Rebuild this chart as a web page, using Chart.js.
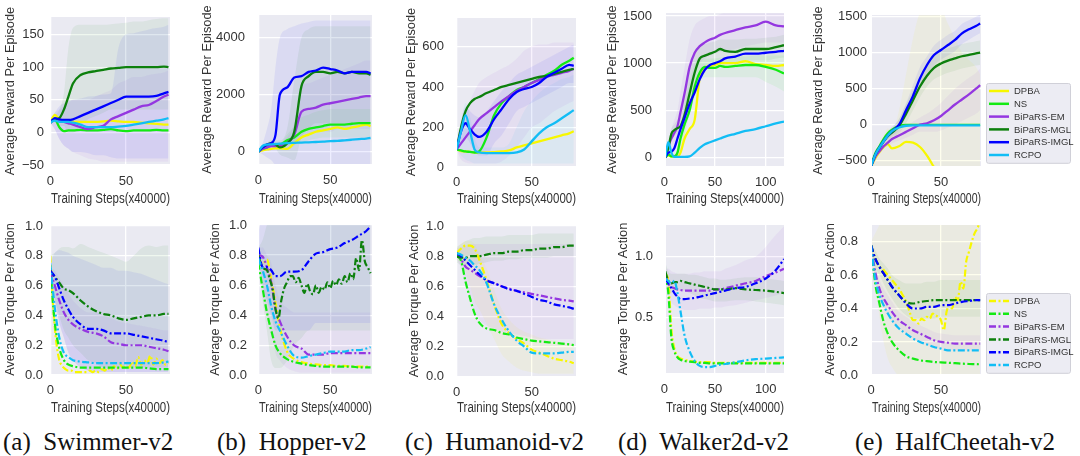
<!DOCTYPE html>
<html>
<head>
<meta charset="utf-8">
<script src="https://cdn.jsdelivr.net/npm/chart.js@4.4.0/dist/chart.umd.min.js"></script>
<style>
  body { margin: 0; background: #fff; width: 1080px; height: 456px; overflow: hidden; position: relative; }
  canvas { position: absolute; }
  .cap { position: absolute; top: 429px; font: 25px/25px "Liberation Serif", "Times New Roman", serif; color: #111; white-space: pre; }
</style>
</head>
<body>
<div class="cap" style="left:3px">(a)  Swimmer-v2</div>
<div class="cap" style="left:217px">(b)  Hopper-v2</div>
<div class="cap" style="left:405px">(c)  Humanoid-v2</div>
<div class="cap" style="left:618px">(d)  Walker2d-v2</div>
<div class="cap" style="left:855px">(e)  HalfCheetah-v2</div>
<script>
// ---- x grids (training steps, x40000) ----
const STEPS80 = [0, 3, 6, 9, 12, 15, 20, 25, 30, 35, 40, 45, 50, 55, 60, 65, 70, 75, 78];
const STEPS80_FINE = [0, 2, 4, 6, 8, 10, 12, 14, 16, 18, 20, 22, 24, 26, 28, 30, 32, 34, 36, 38, 40, 42, 44, 46, 48, 50, 52, 54, 56, 58, 60, 62, 64, 66, 68, 70, 72, 74, 76, 78];
const STEPS120 = [1, 4, 7, 10, 13, 16, 20, 25, 30, 35, 40, 45, 50, 55, 60, 70, 80, 90, 100, 110, 118];

const X_TICKS_80 = [0, 50];
const X_TICKS_120 = [0, 50, 100];

// ---- Swimmer reward ----
const swimRTicks = [-50, 0, 50, 100, 150];
const swimRDpba = [15, 27, 20, 17, 16, 16, 16, 16, 16, 17, 18, 17, 16, 16, 15, 14, 13, 12, 12];
const swimRNs = [15, 20, 8, 2, 3, 3, 4, 3, 3, 4, 5, 3, 2, 3, 3, 3, 4, 3, 3];
const swimREm = [15, 20, 18, 16, 14, 12, 8, 5, 8, 10, 20, 25, 30, 35, 40, 42, 48, 55, 58];
const swimRMgl = [15, 20, 22, 35, 55, 75, 88, 92, 94, 96, 98, 99, 100, 100, 100, 100, 100, 101, 100];
const swimRImgl = [15, 22, 20, 19, 19, 20, 25, 30, 35, 40, 45, 50, 55, 55, 55, 55, 56, 60, 62];
const swimRRcpo = [15, 18, 16, 16, 16, 15, 12, 8, 8, 8, 8, 9, 10, 12, 14, 16, 18, 20, 22];
const swimRMglHi = [15, 25, 35, 60, 130, 160, 165, 165, 165, 165, 166, 167, 168, 170, 170, 172, 174, 175, 175];
const swimRMglLo = [15, 15, 10, 10, 0, 0, 10, 20, 25, 30, 35, 35, 35, 35, 35, 35, 35, 35, 35];
const swimRImglHi = [15, 30, 40, 45, 48, 50, 52, 55, 56, 58, 60, 130, 150, 152, 155, 158, 160, 162, 165];
const swimRImglLo = [15, 5, -10, -20, -25, -30, -30, -32, -35, -35, -38, -40, -40, -40, -40, -40, -40, -40, -40];
const swimREmHi = [15, 30, 35, 40, 45, 50, 50, 50, 55, 60, 65, 75, 80, 85, 85, 88, 90, 92, 95];
const swimREmLo = [15, 5, -10, -20, -25, -30, -35, -40, -42, -45, -45, -45, -45, -45, -45, -45, -45, -45, -45];

// ---- Hopper reward ----
const hopRTicks = [0, 2000, 4000];
const hopRDpba = [0, 50, 80, 100, 120, 120, 100, 300, 500, 600, 700, 750, 800, 850, 800, 850, 900, 950, 900];
const hopRNs = [0, 100, 150, 250, 250, 250, 400, 500, 700, 800, 850, 900, 950, 950, 950, 980, 1000, 1000, 1000];
const hopREm = [0, 100, 150, 200, 200, 200, 300, 600, 1400, 1500, 1550, 1650, 1700, 1750, 1800, 1850, 1900, 1950, 1950];
const hopRMgl = [0, 150, 250, 300, 250, 150, 290, 700, 2300, 2650, 2800, 2800, 2750, 2800, 2750, 2800, 2750, 2750, 2700];
const hopRImgl = [0, 150, 250, 300, 600, 2000, 2250, 2600, 2650, 2800, 2850, 2950, 2900, 2850, 2750, 2800, 2800, 2800, 2750];
const hopRRcpo = [0, 200, 250, 260, 270, 280, 300, 310, 320, 330, 340, 350, 370, 380, 400, 420, 440, 460, 480];
const hopRImglHi = [0, 300, 800, 1500, 3000, 4000, 4300, 4400, 4500, 4550, 4600, 4600, 4600, 4600, 4600, 4600, 4600, 4600, 4600];
const hopRImglLo = [0, -100, -200, -300, -450, -450, -450, -450, -450, -450, -450, -450, -450, -450, -450, -450, -450, -450, -450];
const hopRMglHi = [0, 200, 300, 400, 400, 400, 800, 2500, 4000, 4300, 4400, 4400, 4400, 4400, 4400, 4400, 4400, 4400, 4400];
const hopRMglLo = [0, 100, 150, 200, 100, -100, -200, -300, 500, 800, 1000, 1000, 1000, 1000, 1000, 1000, 1000, 1000, 1000];
const hopREmHi = [0, 150, 200, 300, 300, 300, 500, 1000, 2300, 2400, 2500, 2600, 2700, 2800, 2900, 3000, 3100, 3200, 3200];
const hopREmLo = [0, 50, 100, 100, 100, 100, 100, 200, 500, 600, 700, 700, 700, 800, 800, 800, 800, 800, 800];
const hopRNsHi = [0, 150, 200, 300, 300, 300, 600, 900, 1200, 1300, 1400, 1450, 1500, 1500, 1500, 1500, 1500, 1500, 1500];
const hopRNsLo = [0, 50, 100, 150, 150, 150, 200, 250, 300, 400, 450, 500, 500, 500, 500, 500, 500, 500, 500];

// ---- Humanoid reward ----
const humRTicks = [0, 200, 400, 600];
const humRDpba = [90, 82, 80, 78, 76, 75, 75, 77, 80, 85, 100, 110, 120, 130, 140, 150, 160, 170, 180];
const humRNs = [90, 85, 80, 78, 75, 80, 150, 260, 320, 355, 385, 400, 420, 440, 460, 480, 510, 530, 545];
const humREm = [90, 120, 150, 180, 210, 240, 270, 300, 330, 355, 380, 400, 420, 435, 450, 460, 470, 480, 490];
const humRMgl = [90, 200, 280, 320, 340, 350, 370, 385, 400, 410, 420, 430, 440, 450, 455, 465, 475, 485, 490];
const humRImgl = [90, 180, 220, 190, 165, 152, 178, 240, 290, 340, 375, 390, 400, 420, 450, 470, 490, 510, 505];
const humRRcpo = [90, 180, 260, 180, 90, 75, 72, 72, 72, 72, 75, 90, 130, 170, 200, 220, 245, 270, 285];
const humREmHi = [90, 150, 250, 330, 380, 420, 450, 470, 490, 510, 540, 580, 600, 610, 610, 620, 620, 620, 620];
const humREmLo = [90, 40, 25, 20, 20, 20, 20, 20, 30, 60, 100, 150, 200, 220, 250, 280, 300, 320, 330];
const humRImglHi = [90, 230, 300, 280, 260, 250, 280, 330, 380, 420, 460, 480, 500, 520, 540, 560, 580, 600, 610];
const humRImglLo = [90, 120, 150, 120, 80, 60, 60, 120, 160, 220, 280, 300, 320, 340, 360, 380, 400, 420, 420];
const humRRcpoHi = [90, 220, 320, 250, 150, 100, 100, 100, 100, 120, 200, 280, 330, 370, 400, 420, 440, 450, 460];
const humRRcpoLo = [90, 60, 40, 30, 20, 20, 20, 20, 20, 20, 20, 20, 20, 20, 20, 20, 20, 20, 20];

// ---- Walker2d reward ----
const walkRTicks = [0, 500, 1000, 1500];
const walkRDpba = [0, 20, 10, 10, 10, 50, 200, 300, 400, 850, 950, 970, 980, 1000, 1000, 1000, 1020, 990, 980, 970, 980];
const walkRNs = [0, 30, 10, 10, 50, 200, 350, 500, 750, 900, 960, 950, 950, 970, 960, 970, 980, 980, 960, 930, 890];
const walkREm = [0, 120, 200, 260, 330, 480, 680, 960, 1110, 1180, 1220, 1250, 1270, 1300, 1320, 1350, 1380, 1400, 1440, 1400, 1390];
const walkRMgl = [0, 100, 250, 290, 310, 330, 450, 680, 900, 1050, 1080, 1100, 1120, 1150, 1130, 1120, 1150, 1150, 1150, 1170, 1190];
const walkRImgl = [0, 50, 60, 100, 200, 300, 420, 570, 690, 830, 930, 980, 1000, 1020, 1050, 1070, 1100, 1100, 1110, 1120, 1130];
const walkRRcpo = [0, 160, 50, 5, 5, 5, 5, 10, 50, 100, 140, 160, 180, 200, 220, 250, 280, 300, 330, 360, 380];
const walkREmHi = [0, 150, 300, 400, 500, 700, 950, 1250, 1400, 1450, 1480, 1500, 1500, 1520, 1530, 1530, 1530, 1530, 1530, 1530, 1530];
const walkREmLo = [0, 50, 100, 150, 200, 300, 450, 750, 900, 1000, 1050, 1080, 1100, 1120, 1130, 1150, 1180, 1200, 1220, 1220, 1220];
const walkRMglHi = [0, 150, 300, 350, 400, 450, 700, 950, 1100, 1180, 1200, 1220, 1230, 1250, 1250, 1250, 1260, 1260, 1270, 1280, 1300];
const walkRMglLo = [0, 50, 200, 230, 250, 250, 350, 550, 800, 900, 950, 980, 1000, 1020, 1000, 990, 1020, 1030, 1030, 1050, 1060];
const walkRNsHi = [0, 50, 30, 30, 100, 300, 550, 800, 1000, 1050, 1050, 1050, 1050, 1060, 1060, 1070, 1070, 1080, 1080, 1080, 1080];
const walkRNsLo = [0, 10, 0, 0, 0, 100, 250, 450, 650, 800, 850, 850, 850, 850, 850, 850, 850, 850, 800, 750, 700];

// ---- HalfCheetah reward ----
const cheeRTicks = [-500, 0, 500, 1000, 1500];
const cheeRDpba = [-580, -470, -380, -310, -270, -330, -300, -240, -250, -310, -430, -590, -750, -900, -1050, -1200, -1350, -1500, -1600];
const cheeRNs = [-580, -400, -300, -200, -120, -70, -20, -2, -2, -2, -2, -2, -2, -2, -2, -2, -2, -2, -2];
const cheeREm = [-580, -450, -370, -300, -250, -200, -150, -100, -50, 0, 20, 60, 120, 200, 280, 350, 420, 500, 550];
const cheeRMgl = [-580, -420, -320, -230, -160, -110, -20, 150, 340, 530, 680, 790, 850, 890, 920, 950, 970, 990, 1000];
const cheeRImgl = [-580, -420, -320, -230, -150, -90, 0, 200, 400, 643, 829, 968, 1037, 1106, 1176, 1268, 1324, 1370, 1405];
const cheeRRcpo = [-580, -420, -320, -230, -150, -90, -40, -15, -10, -10, -10, -10, -10, -10, -10, -10, -10, -10, -10];
const cheeRDpbaHi = [-580, -400, -250, -150, -50, -100, 200, 700, 1200, 1550, 1600, 1600, 1600, 1400, 1200, 1000, 900, 800, 700];
const cheeRDpbaLo = [-580, -700, -700, -700, -700, -700, -700, -700, -700, -700, -700, -700, -700, -700, -700, -700, -700, -700, -700];
const cheeRImglHi = [-560, -380, -270, -170, -90, -30, 80, 300, 550, 800, 950, 1100, 1180, 1250, 1300, 1400, 1450, 1500, 1530];
const cheeRImglLo = [-600, -460, -370, -290, -210, -150, -80, 100, 300, 540, 700, 820, 900, 960, 1020, 1120, 1180, 1240, 1270];
const cheeRMglHi = [-560, -390, -280, -190, -110, -50, 80, 280, 480, 680, 830, 950, 1020, 1060, 1090, 1120, 1140, 1160, 1170];
const cheeRMglLo = [-600, -450, -360, -270, -210, -170, -120, 20, 200, 380, 530, 630, 680, 720, 750, 780, 800, 820, 830];
const cheeREmHi = [-560, -420, -330, -260, -200, -140, -80, -20, 40, 100, 150, 220, 300, 400, 500, 580, 650, 720, 780];
const cheeREmLo = [-600, -480, -410, -340, -300, -260, -220, -180, -140, -100, -100, -100, -80, -40, 0, 50, 100, 150, 200];

// ---- Swimmer torque ----
const swimTTicks = [0.0, 0.2, 0.4, 0.6, 0.8, 1.0];
const swimTDpba = [0.80, 0.45, 0.22, 0.10, 0.06, 0.04, 0.03, 0.03, 0.02, 0.02, 0.02, 0.02, 0.02, 0.03, 0.02, 0.03, 0.02, 0.04, 0.03, 0.05, 0.03, 0.06, 0.04, 0.07, 0.05, 0.08, 0.05, 0.09, 0.06, 0.12, 0.07, 0.10, 0.08, 0.13, 0.07, 0.11, 0.08, 0.10, 0.07, 0.08];
const swimTNs = [0.72, 0.35, 0.18, 0.10, 0.07, 0.06, 0.05, 0.05, 0.05, 0.05, 0.05, 0.05, 0.05, 0.05, 0.05, 0.045, 0.04, 0.04, 0.04];
const swimTEm = [0.70, 0.60, 0.50, 0.42, 0.37, 0.34, 0.31, 0.29, 0.28, 0.26, 0.22, 0.21, 0.20, 0.20, 0.20, 0.19, 0.18, 0.17, 0.16];
const swimTMgl = [0.70, 0.66, 0.62, 0.58, 0.57, 0.55, 0.50, 0.46, 0.43, 0.41, 0.40, 0.38, 0.37, 0.38, 0.39, 0.40, 0.40, 0.41, 0.41];
const swimTImgl = [0.70, 0.66, 0.58, 0.50, 0.44, 0.39, 0.34, 0.31, 0.31, 0.30, 0.28, 0.28, 0.28, 0.27, 0.26, 0.25, 0.24, 0.23, 0.22];
const swimTRcpo = [0.75, 0.45, 0.25, 0.15, 0.12, 0.10, 0.09, 0.085, 0.08, 0.08, 0.08, 0.08, 0.08, 0.08, 0.08, 0.08, 0.08, 0.085, 0.09];
const swimTMglHi = [0.80, 0.82, 0.85, 0.86, 0.86, 0.85, 0.88, 0.86, 0.84, 0.82, 0.80, 0.78, 0.76, 0.80, 0.85, 0.87, 0.86, 0.87, 0.87];
const swimTMglLo = [0.60, 0.50, 0.40, 0.30, 0.25, 0.20, 0.15, 0.10, 0.08, 0.05, 0.05, 0.05, 0.05, 0.05, 0.05, 0.05, 0.05, 0.05, 0.05];
const swimTImglHi = [0.75, 0.82, 0.84, 0.83, 0.82, 0.80, 0.78, 0.76, 0.74, 0.72, 0.72, 0.70, 0.70, 0.69, 0.68, 0.66, 0.64, 0.62, 0.61];
const swimTImglLo = [0.65, 0.50, 0.35, 0.25, 0.15, 0.10, 0.05, 0.03, 0.02, 0.02, 0.02, 0.02, 0.02, 0.02, 0.02, 0.02, 0.02, 0.02, 0.02];
const swimTEmHi = [0.72, 0.70, 0.65, 0.60, 0.55, 0.50, 0.45, 0.42, 0.42, 0.40, 0.38, 0.36, 0.35, 0.34, 0.33, 0.32, 0.31, 0.30, 0.30];
const swimTEmLo = [0.68, 0.50, 0.35, 0.25, 0.15, 0.10, 0.05, 0.03, 0.02, 0.02, 0.02, 0.02, 0.02, 0.02, 0.02, 0.02, 0.02, 0.02, 0.02];

// ---- Hopper torque ----
const hopTTicks = [0.0, 0.2, 0.4, 0.6, 0.8, 1.0];
const hopTDpba = [0.78, 0.74, 0.77, 0.64, 0.48, 0.32, 0.16, 0.11, 0.09, 0.08, 0.075, 0.07, 0.07, 0.065, 0.065, 0.06, 0.06, 0.06, 0.06];
const hopTNs = [0.75, 0.58, 0.42, 0.30, 0.20, 0.15, 0.11, 0.09, 0.08, 0.07, 0.065, 0.06, 0.06, 0.06, 0.06, 0.06, 0.055, 0.055, 0.055];
const hopTEm = [0.80, 0.79, 0.72, 0.62, 0.44, 0.36, 0.26, 0.20, 0.18, 0.14, 0.14, 0.14, 0.15, 0.15, 0.15, 0.15, 0.15, 0.15, 0.15];
const hopTMgl = [0.80, 0.74, 0.71, 0.70, 0.64, 0.57, 0.44, 0.38, 0.50, 0.58, 0.62, 0.66, 0.66, 0.62, 0.65, 0.60, 0.55, 0.61, 0.56, 0.54, 0.60, 0.55, 0.59, 0.57, 0.62, 0.58, 0.63, 0.60, 0.64, 0.61, 0.66, 0.62, 0.68, 0.64, 0.78, 0.70, 0.90, 0.76, 0.72, 0.68];
const hopTImgl = [0.85, 0.72, 0.72, 0.70, 0.66, 0.66, 0.69, 0.69, 0.70, 0.76, 0.81, 0.82, 0.84, 0.85, 0.88, 0.90, 0.93, 0.96, 0.99];
const hopTRcpo = [0.78, 0.70, 0.60, 0.46, 0.36, 0.30, 0.20, 0.13, 0.12, 0.13, 0.14, 0.15, 0.16, 0.16, 0.16, 0.17, 0.17, 0.18, 0.19];
const hopTImglHi = [0.95, 1.05, 1.05, 1.05, 1.05, 1.05, 1.05, 1.05, 1.05, 1.05, 1.05, 1.05, 1.05, 1.05, 1.05, 1.05, 1.05, 1.05, 1.05];
const hopTImglLo = [0.80, 0.60, 0.50, 0.40, 0.30, 0.30, 0.30, 0.30, 0.30, 0.30, 0.35, 0.35, 0.35, 0.35, 0.35, 0.35, 0.35, 0.35, 0.35];
const hopTMglHi = [0.85, 0.90, 1.00, 1.05, 1.05, 1.05, 1.05, 1.05, 1.05, 1.05, 1.05, 1.05, 1.05, 1.05, 1.05, 1.05, 1.05, 1.05, 1.05];
const hopTMglLo = [0.75, 0.50, 0.30, 0.10, 0.05, 0.05, 0.10, 0.20, 0.25, 0.30, 0.30, 0.30, 0.30, 0.30, 0.30, 0.30, 0.30, 0.30, 0.30];
const hopTEmHi = [0.85, 0.85, 0.80, 0.75, 0.60, 0.50, 0.45, 0.42, 0.42, 0.42, 0.42, 0.42, 0.42, 0.42, 0.42, 0.42, 0.42, 0.42, 0.42];
const hopTEmLo = [0.75, 0.60, 0.40, 0.30, 0.15, 0.10, 0.05, 0.03, 0.02, 0.02, 0.02, 0.02, 0.02, 0.02, 0.02, 0.02, 0.02, 0.02, 0.02];

// ---- Humanoid torque ----
const humTTicks = [0.0, 0.2, 0.4, 0.6, 0.8, 1.0];
const humTDpba = [0.82, 0.85, 0.87, 0.87, 0.85, 0.78, 0.64, 0.48, 0.35, 0.29, 0.25, 0.22, 0.18, 0.16, 0.14, 0.12, 0.11, 0.10, 0.09];
const humTNs = [0.80, 0.77, 0.63, 0.52, 0.42, 0.36, 0.32, 0.31, 0.29, 0.28, 0.26, 0.25, 0.24, 0.235, 0.23, 0.225, 0.22, 0.215, 0.21];
const humTEm = [0.82, 0.78, 0.73, 0.71, 0.69, 0.67, 0.64, 0.62, 0.60, 0.585, 0.57, 0.56, 0.55, 0.54, 0.53, 0.52, 0.51, 0.505, 0.50];
const humTMgl = [0.80, 0.79, 0.79, 0.80, 0.80, 0.80, 0.81, 0.82, 0.82, 0.83, 0.83, 0.84, 0.84, 0.85, 0.85, 0.86, 0.86, 0.87, 0.87];
const humTImgl = [0.82, 0.80, 0.77, 0.74, 0.71, 0.68, 0.64, 0.62, 0.60, 0.58, 0.57, 0.55, 0.53, 0.51, 0.50, 0.48, 0.47, 0.46, 0.45];
const humTRcpo = [0.82, 0.81, 0.79, 0.77, 0.74, 0.71, 0.62, 0.48, 0.38, 0.30, 0.24, 0.20, 0.16, 0.155, 0.155, 0.155, 0.16, 0.165, 0.165];
const humTEmHi = [0.85, 0.86, 0.87, 0.88, 0.88, 0.88, 0.88, 0.88, 0.88, 0.88, 0.88, 0.88, 0.88, 0.88, 0.88, 0.88, 0.88, 0.88, 0.88];
const humTEmLo = [0.79, 0.72, 0.62, 0.52, 0.44, 0.38, 0.34, 0.32, 0.30, 0.29, 0.28, 0.27, 0.26, 0.25, 0.25, 0.25, 0.25, 0.25, 0.25];
const humTMglHi = [0.86, 0.88, 0.90, 0.91, 0.92, 0.92, 0.93, 0.93, 0.93, 0.94, 0.94, 0.94, 0.94, 0.95, 0.95, 0.95, 0.95, 0.95, 0.95];
const humTMglLo = [0.76, 0.74, 0.73, 0.74, 0.74, 0.75, 0.76, 0.77, 0.77, 0.78, 0.78, 0.79, 0.79, 0.79, 0.79, 0.80, 0.80, 0.80, 0.80];
const humTDpbaHi = [0.85, 0.88, 0.90, 0.90, 0.88, 0.82, 0.72, 0.58, 0.45, 0.38, 0.33, 0.30, 0.28, 0.26, 0.25, 0.24, 0.23, 0.22, 0.22];
const humTDpbaLo = [0.78, 0.75, 0.70, 0.60, 0.50, 0.45, 0.35, 0.25, 0.15, 0.10, 0.06, 0.04, 0.03, 0.02, 0.02, 0.02, 0.02, 0.02, 0.02];

// ---- Walker2d torque ----
const walkTTicks = [0.5, 1.0];
const walkTDpba = [0.86, 0.80, 0.40, 0.24, 0.18, 0.16, 0.15, 0.14, 0.135, 0.13, 0.13, 0.13, 0.125, 0.125, 0.125, 0.125, 0.125, 0.125, 0.125, 0.125, 0.125];
const walkTNs = [0.86, 0.70, 0.33, 0.22, 0.17, 0.15, 0.14, 0.135, 0.13, 0.125, 0.125, 0.12, 0.12, 0.12, 0.12, 0.12, 0.12, 0.12, 0.12, 0.12, 0.12];
const walkTEm = [0.85, 0.78, 0.75, 0.74, 0.73, 0.725, 0.72, 0.72, 0.72, 0.72, 0.72, 0.72, 0.73, 0.73, 0.74, 0.76, 0.78, 0.80, 0.84, 0.87, 0.90];
const walkTMgl = [0.88, 0.80, 0.78, 0.79, 0.79, 0.80, 0.79, 0.78, 0.77, 0.76, 0.75, 0.74, 0.73, 0.73, 0.73, 0.74, 0.73, 0.725, 0.72, 0.71, 0.70];
const walkTImgl = [0.82, 0.78, 0.74, 0.70, 0.67, 0.65, 0.65, 0.655, 0.66, 0.67, 0.68, 0.69, 0.70, 0.71, 0.72, 0.74, 0.75, 0.78, 0.82, 0.89, 0.98];
const walkTRcpo = [0.82, 0.80, 0.78, 0.80, 0.70, 0.55, 0.35, 0.22, 0.14, 0.10, 0.09, 0.09, 0.10, 0.11, 0.115, 0.13, 0.145, 0.155, 0.16, 0.165, 0.17];
const walkTEmHi = [0.90, 0.90, 0.88, 0.87, 0.86, 0.86, 0.86, 0.86, 0.87, 0.87, 0.88, 0.88, 0.88, 0.88, 0.90, 0.93, 0.97, 1.00, 1.08, 1.18, 1.25];
const walkTEmLo = [0.80, 0.68, 0.62, 0.60, 0.58, 0.57, 0.56, 0.56, 0.56, 0.57, 0.57, 0.57, 0.58, 0.58, 0.59, 0.60, 0.62, 0.64, 0.66, 0.68, 0.70];
const walkTMglHi = [0.95, 0.88, 0.86, 0.86, 0.86, 0.86, 0.86, 0.85, 0.85, 0.84, 0.83, 0.82, 0.82, 0.81, 0.81, 0.82, 0.83, 0.83, 0.82, 0.81, 0.80];
const walkTMglLo = [0.80, 0.72, 0.70, 0.72, 0.72, 0.72, 0.72, 0.70, 0.68, 0.66, 0.65, 0.64, 0.63, 0.63, 0.63, 0.64, 0.64, 0.63, 0.62, 0.61, 0.60];

// ---- HalfCheetah torque ----
const cheeTTicks = [0.0, 0.2, 0.4, 0.6, 0.8];
const cheeTDpba = [0.78, 0.72, 0.68, 0.65, 0.64, 0.62, 0.60, 0.58, 0.56, 0.54, 0.52, 0.49, 0.46, 0.42, 0.37, 0.33, 0.33, 0.31, 0.34, 0.33, 0.35, 0.34, 0.37, 0.36, 0.35, 0.33, 0.27, 0.38, 0.42, 0.40, 0.47, 0.45, 0.56, 0.52, 0.68, 0.74, 0.80, 0.85, 0.88, 0.92];
const cheeTNs = [0.78, 0.55, 0.43, 0.32, 0.25, 0.20, 0.15, 0.115, 0.10, 0.09, 0.085, 0.08, 0.078, 0.075, 0.073, 0.07, 0.068, 0.067, 0.066];
const cheeTEm = [0.78, 0.62, 0.52, 0.46, 0.42, 0.38, 0.33, 0.30, 0.27, 0.25, 0.23, 0.21, 0.20, 0.195, 0.19, 0.19, 0.19, 0.19, 0.19];
const cheeTMgl = [0.78, 0.70, 0.65, 0.61, 0.57, 0.53, 0.48, 0.44, 0.43, 0.44, 0.445, 0.45, 0.45, 0.45, 0.45, 0.45, 0.45, 0.45, 0.45];
const cheeTImgl = [0.78, 0.70, 0.65, 0.61, 0.57, 0.53, 0.48, 0.43, 0.40, 0.40, 0.41, 0.41, 0.42, 0.42, 0.43, 0.44, 0.445, 0.45, 0.45];
const cheeTRcpo = [0.78, 0.58, 0.48, 0.42, 0.37, 0.33, 0.28, 0.25, 0.22, 0.20, 0.185, 0.17, 0.16, 0.15, 0.15, 0.15, 0.15, 0.15, 0.15];
const cheeTDpbaHi = [0.80, 0.85, 0.90, 0.95, 0.95, 0.95, 0.95, 0.95, 0.95, 0.95, 0.95, 0.95, 0.95, 0.95, 0.95, 0.95, 0.95, 0.95, 0.95];
const cheeTDpbaLo = [0.76, 0.55, 0.35, 0.20, 0.10, 0.05, 0.00, 0.00, 0.00, 0.00, 0.00, 0.00, 0.00, 0.00, 0.00, 0.00, 0.00, 0.00, 0.00];
const cheeTMglHi = [0.80, 0.75, 0.70, 0.67, 0.64, 0.60, 0.57, 0.55, 0.55, 0.55, 0.56, 0.56, 0.57, 0.57, 0.57, 0.57, 0.57, 0.57, 0.57];
const cheeTMglLo = [0.76, 0.65, 0.60, 0.55, 0.50, 0.46, 0.40, 0.36, 0.34, 0.34, 0.34, 0.34, 0.35, 0.35, 0.35, 0.35, 0.35, 0.35, 0.35];
const cheeTEmHi = [0.80, 0.66, 0.57, 0.52, 0.48, 0.44, 0.38, 0.35, 0.32, 0.30, 0.28, 0.26, 0.25, 0.245, 0.24, 0.24, 0.24, 0.24, 0.24];
const cheeTEmLo = [0.76, 0.58, 0.47, 0.40, 0.36, 0.32, 0.28, 0.25, 0.22, 0.20, 0.18, 0.16, 0.155, 0.15, 0.15, 0.15, 0.15, 0.15, 0.15];

// ---- look ----
const SERIES = ['Dpba', 'Ns', 'Em', 'Mgl', 'Imgl', 'Rcpo'];
const LABELS = { Dpba: 'DPBA', Ns: 'NS', Em: 'BiPaRS-EM', Mgl: 'BiPaRS-MGL', Imgl: 'BiPaRS-IMGL', Rcpo: 'RCPO' };
const COLORS = { Dpba: '#f7f700', Ns: '#14ea14', Em: '#9437e0', Mgl: '#0d800d', Imgl: '#0000ff', Rcpo: '#12bdf5' };
const FONT = '"Liberation Sans", Arial, sans-serif';
const TEXT = '#333333';
const BAND_ALPHA = 0.065;

function rgba(hex, a) {
    const n = parseInt(hex.slice(1), 16);
    return `rgba(${n >> 16}, ${(n >> 8) & 255}, ${n & 255}, ${a})`;
}
function pts(xs, ys) {
    return xs.map((x, i) => ({ x: x, y: ys[i] }));
}

const plotBg = {
    id: 'plotBg',
    beforeDraw(chart) {
        const { ctx, chartArea: a } = chart;
        ctx.save();
        ctx.fillStyle = '#eaeaf2';
        ctx.fillRect(a.left, a.top, a.right - a.left, a.bottom - a.top);
        ctx.restore();
    }
};

// legend box drawn to the right of the plot
const boxLegend = {
    id: 'boxLegend',
    afterDraw(chart, args, opts) {
        if (!opts.show) return;
        const { ctx, chartArea } = chart;
        const items = chart.data.datasets.filter(d => d.label);
        const x0 = chartArea.right + 5;
        const y0 = chartArea.top + 68;
        const rowH = 12.8;
        const w = 84, h = items.length * rowH + 3;
        ctx.save();
        ctx.fillStyle = 'rgba(234,234,242,0.9)';
        ctx.strokeStyle = '#d0d0d8';
        ctx.lineWidth = 1;
        ctx.beginPath();
        ctx.roundRect(x0 + 0.5, y0 + 0.5, w, h, 2);
        ctx.fill();
        ctx.stroke();
        ctx.font = '9.5px ' + FONT;
        ctx.textBaseline = 'middle';
        items.forEach((d, i) => {
            const y = y0 + 8 + i * rowH;
            ctx.strokeStyle = d.borderColor;
            ctx.lineWidth = 2.5;
            ctx.setLineDash(d.borderDash || []);
            ctx.beginPath();
            ctx.moveTo(x0 + 3, y);
            ctx.lineTo(x0 + 23, y);
            ctx.stroke();
            ctx.setLineDash([]);
            ctx.fillStyle = TEXT;
            ctx.fillText(d.label, x0 + 28, y + 0.5);
        });
        ctx.restore();
    }
};

Chart.defaults.animation = false;
Chart.defaults.font.family = FONT;
Chart.defaults.color = TEXT;

const TOP_TITLE = 'Average Reward Per Episode';
const BOT_TITLE = 'Average Torque Per Action';

const panels = [
    { steps: STEPS80, lines: { Dpba: swimRDpba, Ns: swimRNs, Em: swimREm, Mgl: swimRMgl, Imgl: swimRImgl, Rcpo: swimRRcpo },
      bands: { Mgl: [swimRMglHi, swimRMglLo], Imgl: [swimRImglHi, swimRImglLo], Em: [swimREmHi, swimREmLo] },
      yTicks: swimRTicks, xTicks: X_TICKS_80, y: [-50, 177], x: [0.5, 79], title: TOP_TITLE,
      box: { pl: 51, pr: 170, pt: 17, pb: 165, tx: 10, ty: 198.5, pad: 7 } },
    { steps: STEPS80, lines: { Dpba: hopRDpba, Ns: hopRNs, Em: hopREm, Mgl: hopRMgl, Imgl: hopRImgl, Rcpo: hopRRcpo },
      bands: { Imgl: [hopRImglHi, hopRImglLo], Mgl: [hopRMglHi, hopRMglLo], Em: [hopREmHi, hopREmLo], Ns: [hopRNsHi, hopRNsLo] },
      yTicks: hopRTicks, xTicks: X_TICKS_80, y: [-432, 4797], x: [0.5, 79], title: TOP_TITLE,
      box: { pl: 259, pr: 372, pt: 15, pb: 164, tx: 207, ty: 198.5, pad: 14 } },
    { steps: STEPS80, lines: { Dpba: humRDpba, Ns: humRNs, Em: humREm, Mgl: humRMgl, Imgl: humRImgl, Rcpo: humRRcpo },
      bands: { Em: [humREmHi, humREmLo], Imgl: [humRImglHi, humRImglLo], Rcpo: [humRRcpoHi, humRRcpoLo] },
      yTicks: humRTicks, xTicks: X_TICKS_80, y: [8, 742], x: [0.3, 79.5], title: TOP_TITLE,
      box: { pl: 457, pr: 576, pt: 18, pb: 166, tx: 411, ty: 198.5, pad: 13 } },
    { steps: STEPS120, lines: { Dpba: walkRDpba, Ns: walkRNs, Em: walkREm, Mgl: walkRMgl, Imgl: walkRImgl, Rcpo: walkRRcpo },
      bands: { Em: [walkREmHi, walkREmLo], Mgl: [walkRMglHi, walkRMglLo], Ns: [walkRNsHi, walkRNsLo] },
      yTicks: walkRTicks, xTicks: X_TICKS_120, y: [-92, 1532], x: [1.7, 118], title: TOP_TITLE,
      box: { pl: 666, pr: 784, pt: 13, pb: 166, tx: 612, ty: 198.5, pad: 14 } },
    { steps: STEPS80, lines: { Dpba: cheeRDpba, Ns: cheeRNs, Em: cheeREm, Mgl: cheeRMgl, Imgl: cheeRImgl, Rcpo: cheeRRcpo },
      bands: { Dpba: [cheeRDpbaHi, cheeRDpbaLo], Em: [cheeREmHi, cheeREmLo], Mgl: [cheeRMglHi, cheeRMglLo], Imgl: [cheeRImglHi, cheeRImglLo] },
      yTicks: cheeRTicks, xTicks: X_TICKS_80, y: [-574, 1523], x: [0.7, 78.6], title: TOP_TITLE, legend: true,
      box: { pl: 872, pr: 981, pt: 15, pb: 166, tx: 818, ty: 198.5, pad: 5 } },

    { steps: STEPS80, lines: { Dpba: swimTDpba, Ns: swimTNs, Em: swimTEm, Mgl: swimTMgl, Imgl: swimTImgl, Rcpo: swimTRcpo },
      lineSteps: { Dpba: STEPS80_FINE },
      bands: { Mgl: [swimTMglHi, swimTMglLo], Imgl: [swimTImglHi, swimTImglLo], Em: [swimTEmHi, swimTEmLo] },
      yTicks: swimTTicks, xTicks: X_TICKS_80, y: [0.007, 1.007], x: [0.5, 79], title: BOT_TITLE, dash: true,
      box: { pl: 51, pr: 170, pt: 225, pb: 374, tx: 10, ty: 408, pad: 8 } },
    { steps: STEPS80, lines: { Dpba: hopTDpba, Ns: hopTNs, Em: hopTEm, Mgl: hopTMgl, Imgl: hopTImgl, Rcpo: hopTRcpo },
      lineSteps: { Mgl: STEPS80_FINE },
      bands: { Imgl: [hopTImglHi, hopTImglLo], Mgl: [hopTMglHi, hopTMglLo], Em: [hopTEmHi, hopTEmLo] },
      yTicks: hopTTicks, xTicks: X_TICKS_80, y: [0.011, 1.0], x: [0.5, 79], title: BOT_TITLE, dash: true,
      box: { pl: 259, pr: 372, pt: 225, pb: 374, tx: 215, ty: 408, pad: 12 } },
    { steps: STEPS80, lines: { Dpba: humTDpba, Ns: humTNs, Em: humTEm, Mgl: humTMgl, Imgl: humTImgl, Rcpo: humTRcpo },
      bands: { Em: [humTEmHi, humTEmLo], Mgl: [humTMglHi, humTMglLo], Dpba: [humTDpbaHi, humTDpbaLo] },
      yTicks: humTTicks, xTicks: X_TICKS_80, y: [0.005, 1.0], x: [0.3, 79.5], title: BOT_TITLE, dash: true,
      box: { pl: 457, pr: 576, pt: 226, pb: 376, tx: 414, ty: 408, pad: 13 } },
    { steps: STEPS120, lines: { Dpba: walkTDpba, Ns: walkTNs, Em: walkTEm, Mgl: walkTMgl, Imgl: walkTImgl, Rcpo: walkTRcpo },
      bands: { Em: [walkTEmHi, walkTEmLo], Mgl: [walkTMglHi, walkTMglLo] },
      yTicks: walkTTicks, xTicks: X_TICKS_120, y: [0.041, 1.261], x: [1.7, 118], title: BOT_TITLE, dash: true,
      box: { pl: 666, pr: 784, pt: 225, pb: 373, tx: 623, ty: 408, pad: 13 } },
    { steps: STEPS80, lines: { Dpba: cheeTDpba, Ns: cheeTNs, Em: cheeTEm, Mgl: cheeTMgl, Imgl: cheeTImgl, Rcpo: cheeTRcpo },
      lineSteps: { Dpba: STEPS80_FINE },
      bands: { Dpba: [cheeTDpbaHi, cheeTDpbaLo], Mgl: [cheeTMglHi, cheeTMglLo], Em: [cheeTEmHi, cheeTEmLo] },
      yTicks: cheeTTicks, xTicks: X_TICKS_80, y: [0.008, 0.90], x: [0.7, 78.6], title: BOT_TITLE, dash: true, legend: true,
      box: { pl: 872, pr: 981, pt: 225, pb: 374, tx: 830, ty: 408, pad: 14 } }
];

const PAD_TOP = 24;

panels.forEach(p => {
    const b = p.box;
    const left = Math.round(b.tx - 9.5);
    const top = b.pt - PAD_TOP;
    const bottom = Math.round(b.ty + 10);
    const padRight = p.legend ? 96 : 6;
    const width = b.pr - left + padRight;
    const height = bottom - top;
    const yw = b.pl - left;
    const xh = bottom - b.pb;

    const canvas = document.createElement('canvas');
    canvas.width = width;
    canvas.height = height;
    canvas.style.left = left + 'px';
    canvas.style.top = top + 'px';
    canvas.style.width = width + 'px';
    canvas.style.height = height + 'px';
    document.body.appendChild(canvas);

    const datasets = [];
    // shaded spread bands first, behind the mean curves
    Object.keys(p.bands).forEach(k => {
        const [hi, lo] = p.bands[k];
        datasets.push({ data: pts(p.steps, hi), borderColor: 'transparent', borderWidth: 0, pointRadius: 0, fill: false, cubicInterpolationMode: 'monotone', order: 20 });
        datasets.push({ data: pts(p.steps, lo), borderColor: 'transparent', borderWidth: 0, pointRadius: 0, fill: '-1', backgroundColor: rgba(COLORS[k], BAND_ALPHA), cubicInterpolationMode: 'monotone', order: 20 });
    });
    SERIES.forEach((k, i) => {
        const xs = (p.lineSteps && p.lineSteps[k]) || p.steps;
        datasets.push({
            label: LABELS[k],
            data: pts(xs, p.lines[k]),
            borderColor: COLORS[k],
            borderWidth: p.dash ? 2.2 : 2.3,
            borderDash: p.dash ? [7, 2.5, 2, 2.5] : [],
            pointRadius: 0,
            fill: false,
            cubicInterpolationMode: 'monotone',
            order: SERIES.length - i
        });
    });

    const fmt = p.dash ? (v => v.toFixed(1)) : (v => String(v).replace('-', '\u2212'));

    new Chart(canvas.getContext('2d'), {
        type: 'line',
        data: { datasets: datasets },
        options: {
            responsive: false,
            devicePixelRatio: 1,
            layout: { padding: { top: PAD_TOP, right: padRight, bottom: 0, left: 0 } },
            plugins: { legend: { display: false }, tooltip: { enabled: false }, boxLegend: { show: !!p.legend } },
            scales: {
                x: {
                    type: 'linear', min: p.x[0], max: p.x[1],
                    afterBuildTicks: s => { s.ticks = p.xTicks.map(v => ({ value: v })); },
                    afterFit: s => { s.height = xh; },
                    grid: { color: '#ffffff', lineWidth: 1.3, drawTicks: false },
                    border: { display: false },
                    ticks: { padding: 9, font: { size: 13 }, color: TEXT, maxRotation: 0, callback: v => String(v) },
                    title: { display: true, text: 'Training Steps(x40000)', font: { size: 13.8 }, color: TEXT, padding: 2 }
                },
                y: {
                    type: 'linear', min: p.y[0], max: p.y[1],
                    afterBuildTicks: s => { s.ticks = p.yTicks.map(v => ({ value: v })); },
                    afterFit: s => { s.width = yw; },
                    grid: { color: '#ffffff', lineWidth: 1.3, drawTicks: false },
                    border: { display: false },
                    ticks: { padding: b.pad, font: { size: 13 }, color: TEXT, callback: fmt },
                    title: { display: true, text: p.title, font: { size: 12.8 }, color: TEXT, padding: 2 }
                }
            }
        },
        plugins: [plotBg, boxLegend]
    });
});
</script>
</body>
</html>
